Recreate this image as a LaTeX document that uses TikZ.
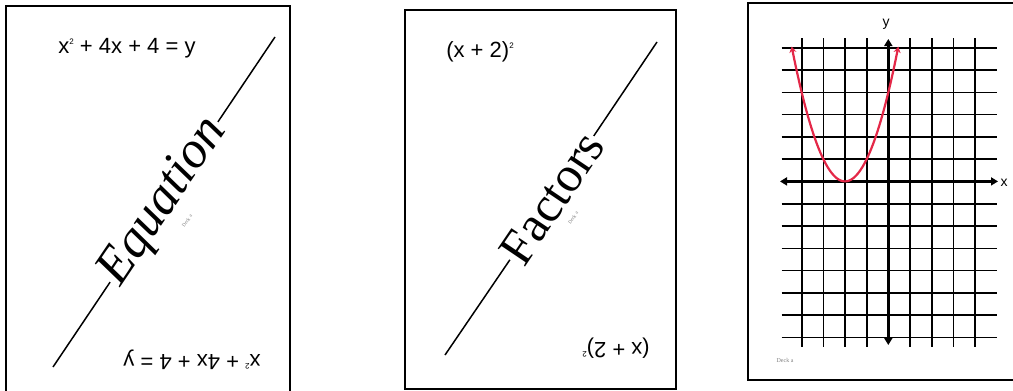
\documentclass[tikz,border=0pt]{standalone}
\usepackage{fontspec}
\setmainfont{Liberation Serif}
\newfontfamily\arialfont{Liberation Sans}
\usetikzlibrary{arrows.meta}
\definecolor{curvered}{RGB}{228,40,72}
\newcommand{\sqmark}{\raisebox{0.75ex}{\fontsize{8}{8}\selectfont 2}}
\begin{document}
\begin{tikzpicture}[x=1pt,y=-1pt,
  card/.style={draw=black,line width=2pt},
  eqtext/.style={font=\arialfont\fontsize{22}{22}\selectfont,inner sep=0pt},
  bigword/.style={rotate=56,fill=white,inner sep=1pt},
  tinytext/.style={font=\fontsize{5}{5}\selectfont,text=gray,inner sep=0pt},
  diag/.style={line width=1.5pt},
  gridline/.style={line width=1.6pt},
  axisline/.style={line width=2.8pt,{Triangle[width=8pt,length=7pt]}-{Triangle[width=8pt,length=7pt]}},
  lbl/.style={font=\arialfont\fontsize{14}{14}\selectfont,inner sep=0pt}
]
\useasboundingbox (0,0) rectangle (1013,391);
\fill[white] (0,0) rectangle (1013,391);

% ---- card 1 ----
\draw[card] (6,6) rectangle (290,405);
\node[eqtext] (t1) at (127,48) {x\sqmark\ + 4x + 4 = y};
\node[eqtext,rotate=180] (b1) at (192,360) {x\sqmark\ + 4x + 4 = y};
\coordinate (a1) at (53,367);
\coordinate (z1) at (275,37);
\node[bigword,font=\fontsize{52}{52}\selectfont\itshape] (w1) at (164,202) {Equation};
\draw[diag] (a1) -- (w1);
\draw[diag] (w1) -- (z1);
\node[tinytext,rotate=56] (d1) at (187,221) {Deck a};

% ---- card 2 ----
\draw[card] (405,10) rectangle (676,389);
\node[eqtext] (t2) at (480,52) {(x + 2)\sqmark};
\node[eqtext,rotate=180] (b2) at (616,348) {(x + 2)\sqmark};
\coordinate (a2) at (445,355);
\coordinate (z2) at (657,42);
\node[bigword,font=\fontsize{50}{50}\selectfont] (w2) at (552,198) {Factors};
\draw[diag] (a2) -- (w2);
\draw[diag] (w2) -- (z2);
\node[tinytext,rotate=56] (d2) at (573,218) {Deck a};

% ---- card 3 ----
\draw[card] (748,3) rectangle (1020,380);
\foreach \gx in {801.7,823.3,845,866.7,910,931.7,953.3,975}
  \draw[gridline] (\gx,38) -- (\gx,347);
\foreach \gy in {47.7,69.9,92.3,114.4,136.7,159,203.7,226,248.3,270.6,292.8,315.1,337.4}
  \draw[gridline] (781.7,\gy) -- (996.7,\gy);
\coordinate (xl) at (780,181.4);
\coordinate (xr) at (998,181.4);
\coordinate (yt) at (888.3,39);
\coordinate (yb) at (888.3,345);
\draw[axisline] (xl) -- (xr);
\draw[axisline] (yt) -- (yb);
\draw[curvered,line width=2.2pt,{Stealth[length=6pt,width=7pt]}-{Stealth[length=6pt,width=7pt]}]
  plot[domain=-2.46:2.46,samples=80,smooth] ({845+21.67*\x},{181.4-22.28*\x*\x});
\node[lbl] (xlab) at (1004,183) {x};
\node[lbl] (ylab) at (886,24) {y};
\node[tinytext,font=\fontsize{6}{6}\selectfont] (d3) at (785,360) {Deck a};
\end{tikzpicture}
\end{document}
